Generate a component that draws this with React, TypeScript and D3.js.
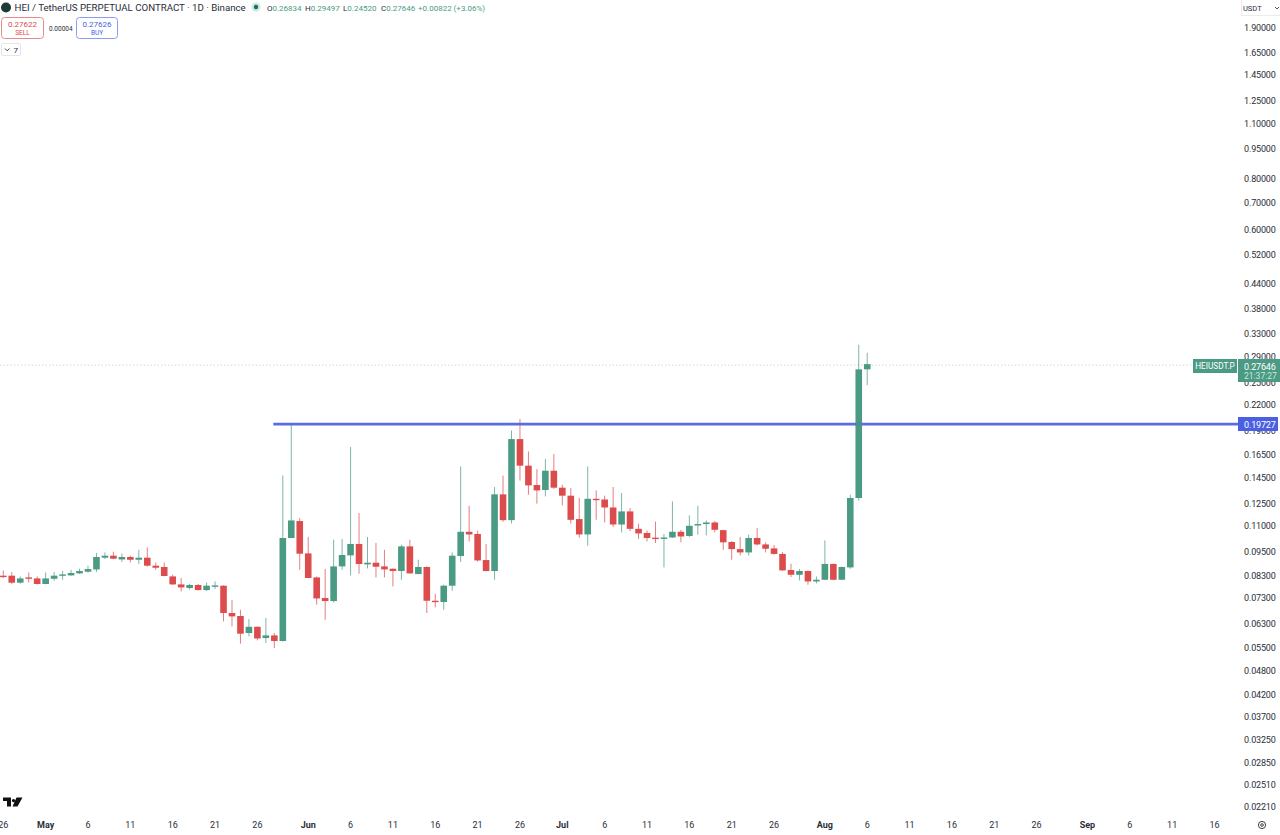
import React from "react";
import * as d3 from "d3";

const firstDay = "2025-04-26";
const opens = [
  0.08247,0.08247,0.07923,0.08166,0.08119,0.07864,0.08104,0.08261,0.08261,0.08356,
  0.08436,0.08546,0.0914,0.09246,0.09049,0.09177,0.09033,0.0914,0.08732,0.08667,
  0.08213,0.07846,0.07685,0.0782,0.07596,0.07775,0.07788,0.06663,0.06549,0.05943,
  0.06157,0.05774,0.05862,0.05676,0.1023,0.1127,0.09368,0.08166,0.07258,0.07134,
  0.08697,0.09262,0.09887,0.08797,0.08882,0.08697,0.08581,0.08469,0.09752,0.08327,
  0.08667,0.07146,0.07094,0.07788,0.0923,0.106,0.1047,0.09018,0.08469,0.1313,
  0.1133,0.1801,0.1547,0.1385,0.1346,0.1503,0.1364,0.1303,0.114,0.1044,
  0.128,0.1275,0.1218,0.1105,0.1191,0.1078,0.1053,0.1025,0.1019,0.1026,
  0.106,0.1035,0.1099,0.1108,0.1118,0.107,0.1,0.096,0.0942,0.1023,
  0.0986,0.0964,0.0934,0.0852,0.0829,0.0847,0.0798,0.08057,0.0882,0.08057,
  0.08646,0.1286,0.26834,
];
const closes = [
  0.08199,0.07923,0.08119,0.08104,0.07864,0.08119,0.08247,0.08308,0.08375,0.08469,
  0.08566,0.09177,0.09246,0.09086,0.09177,0.09033,0.0914,0.08732,0.08631,0.08233,
  0.07846,0.07712,0.0782,0.07596,0.07788,0.07802,0.06663,0.06534,0.05919,0.06157,
  0.0576,0.05862,0.05676,0.1023,0.1131,0.09352,0.08138,0.07241,0.07134,0.08697,
  0.09283,0.09887,0.08817,0.08882,0.0868,0.08546,0.08469,0.09752,0.08356,0.08667,
  0.07146,0.07094,0.07788,0.09246,0.106,0.1044,0.08998,0.08469,0.1313,0.1133,
  0.1801,0.1547,0.1382,0.1343,0.1503,0.1364,0.1303,0.1135,0.1044,0.128,
  0.1275,0.1218,0.1105,0.1191,0.1078,0.105,0.1023,0.102,0.1026,0.106,
  0.1032,0.1097,0.1108,0.1118,0.1072,0.0998,0.096,0.0942,0.1023,0.0986,
  0.0962,0.0934,0.085,0.0829,0.0847,0.0798,0.08057,0.0882,0.08057,0.08667,
  0.1286,0.26834,0.27646,
];
const highs = [
  0.08498,0.08422,0.08213,0.08403,0.08213,0.08403,0.08422,0.08469,0.08531,0.08581,
  0.08732,0.09389,0.09421,0.09459,0.09352,0.09246,0.09565,0.09695,0.08897,0.08897,
  0.08294,0.08138,0.07878,0.07864,0.07936,0.07981,0.078,0.07186,0.06787,0.06436,
  0.0617,0.06474,0.05943,0.1463,0.1955,0.1146,0.1029,0.08213,0.08566,0.1013,
  0.1017,0.1721,0.118,0.1029,0.09944,0.09565,0.08596,0.09848,0.1013,0.09033,
  0.08697,0.0744,0.07833,0.09421,0.154,0.123,0.1066,0.09887,0.1369,0.1461,
  0.1892,0.2019,0.1678,0.1517,0.1607,0.1654,0.1387,0.1361,0.1286,0.154,
  0.1343,0.1303,0.1369,0.1323,0.1214,0.111,0.1068,0.1124,0.1047,0.1261,
  0.1072,0.1164,0.123,0.1131,0.1127,0.1072,0.1005,0.1029,0.1042,0.1083,
  0.0998,0.0983,0.0944,0.0883,0.0857,0.085,0.0821,0.1009,0.0884,0.0869,
  0.131,0.3088,0.29497,
];
const lows = [
  0.08138,0.07878,0.07878,0.07936,0.07846,0.0785,0.08012,0.08057,0.08247,0.08327,
  0.08389,0.08422,0.0907,0.0907,0.08918,0.08897,0.08817,0.0868,0.08531,0.08213,
  0.0782,0.07537,0.07609,0.07579,0.07554,0.0764,0.0635,0.06171,0.0559,0.0583,
  0.05695,0.05612,0.05454,0.05663,0.1022,0.08531,0.0813,0.06987,0.0641,0.07078,
  0.08531,0.08261,0.08341,0.08596,0.08166,0.08166,0.07757,0.08057,0.0834,0.08308,
  0.06663,0.06879,0.06787,0.07567,0.08918,0.1002,0.08933,0.0846,0.08057,0.1122,
  0.1112,0.1421,0.131,0.1245,0.1298,0.1354,0.1233,0.111,0.1025,0.0979,
  0.1135,0.1118,0.1089,0.1056,0.1064,0.1017,0.1003,0.0994,0.08646,0.1023,
  0.0998,0.1029,0.1042,0.1038,0.1056,0.09565,0.09033,0.0926,0.0925,0.0979,
  0.0942,0.093,0.08484,0.08185,0.08026,0.0783,0.0789,0.0804,0.0804,0.0804,
  0.0858,0.1266,0.2452,
];
const priceTicks = [
  1.9,1.65,1.45,1.25,1.1,0.95,0.8,0.7,0.6,0.52,0.44,0.38,0.33,0.29,0.25,0.22,0.19,0.165,0.145,0.125,0.11,0.095,
  0.083,0.073,0.063,0.055,0.048,0.042,0.037,0.0325,0.0285,0.0251,0.0221,
];
const dateTicks = [
  "2025-04-26","2025-05-01","2025-05-06","2025-05-11","2025-05-16","2025-05-21","2025-05-26",
  "2025-06-01","2025-06-06","2025-06-11","2025-06-16","2025-06-21","2025-06-26",
  "2025-07-01","2025-07-06","2025-07-11","2025-07-16","2025-07-21","2025-07-26",
  "2025-08-01","2025-08-06","2025-08-11","2025-08-16","2025-08-21","2025-08-26",
  "2025-09-01","2025-09-06","2025-09-11","2025-09-16",
];
const levelPrice = 0.19727;
const levelStart = "2025-05-28";
const lastPrice = 0.27646;

const GREEN = "#4a9a84";
const RED = "#dc4c4c";
const BLUE = "#4a5fe3";
const TEXT = "#2a2e39";
const FONT = "Roboto, 'Liberation Sans', sans-serif";

const x = d3.scaleUtc().domain([new Date(firstDay), new Date("2025-09-16")]).range([3.3, 1214.5]);
const y = d3.scaleLog().domain([1.9, 0.0221]).range([27, 806]);
const dayX = (i: number) => x(d3.utcDay.offset(new Date(firstDay), i));
const bodyW = 6.6;

function Header() {
  const ohlc: [string, string][] = [["O", "0.26834"], ["H", "0.29497"], ["L", "0.24520"], ["C", "0.27646"]];
  let cx = 267;
  return (
    <g fontFamily={FONT}>
      <circle cx={6} cy={7.5} r={5} fill="#1e3a34" />
      <text x={14.5} y={11} fontSize={9.7} fill={TEXT}>HEI / TetherUS PERPETUAL CONTRACT · 1D · Binance</text>
      <circle cx={256} cy={7} r={4.5} fill="#cfe8e0" />
      <circle cx={256} cy={7} r={2.2} fill="#1f6f5c" />
      {ohlc.map(([k, v]) => {
        const at = cx;
        cx += 38;
        return (
          <text key={k} x={at} y={10.5} fontSize={8} fill={GREEN}>
            <tspan fill={TEXT}>{k}</tspan>{v}
          </text>
        );
      })}
      <text x={418} y={10.5} fontSize={8} fill={GREEN}>+0.00822 (+3.06%)</text>
      <rect x={1.5} y={17.5} width={42} height={21} rx={3} fill="#fff" stroke="#e58a8a" />
      <text x={22.5} y={26.5} textAnchor="middle" fontSize={8} fill={RED}>0.27622</text>
      <text x={22.5} y={35} textAnchor="middle" fontSize={6.5} fill={RED}>SELL</text>
      <text x={49} y={30.5} fontSize={6.5} fill={TEXT}>0.00004</text>
      <rect x={76.5} y={17.5} width={41} height={21} rx={3} fill="#fff" stroke="#8c9af0" />
      <text x={97} y={26.5} textAnchor="middle" fontSize={8} fill={BLUE}>0.27626</text>
      <text x={97} y={35} textAnchor="middle" fontSize={6.5} fill={BLUE}>BUY</text>
      <rect x={1.5} y={43.5} width={19} height={12} rx={1.5} fill="#fff" stroke="#e6e6e6" />
      <path d="M5 48.5 L7.2 50.8 L9.4 48.5" fill="none" stroke={TEXT} strokeWidth={0.9} />
      <text x={13.5} y={52.5} fontSize={8} fill={TEXT}>7</text>
    </g>
  );
}

function PriceAxis() {
  return (
    <g fontFamily={FONT} fontSize={9} fill={TEXT} letterSpacing={-0.15}>
      <path d="M1241.5 0 V15.5 H1280" fill="none" stroke="#ececec" />
      <text x={1243} y={10.5} fontSize={7.5} letterSpacing={0}>USDT</text>
      <path d="M1275 7 L1277 9 L1279 7" fill="none" stroke={TEXT} strokeWidth={0.8} />
      {priceTicks.map((p) => (
        <text key={p} x={1244} y={y(p) + 4}>{p.toFixed(5)}</text>
      ))}
    </g>
  );
}

function TimeAxis() {
  const fmt = d3.utcFormat("%b");
  return (
    <g fontFamily={FONT} fontSize={9} fill={TEXT} textAnchor="middle">
      {dateTicks.map((s) => {
        const d = new Date(s);
        const first = d.getUTCDate() === 1;
        return (
          <text key={s} x={x(d)} y={828} fontWeight={first ? 700 : 400}>
            {first ? fmt(d) : d.getUTCDate()}
          </text>
        );
      })}
      <circle cx={1262} cy={825} r={3.6} fill="none" stroke={TEXT} strokeWidth={0.9} />
      <circle cx={1262} cy={825} r={1.3} fill="none" stroke={TEXT} strokeWidth={0.9} />
    </g>
  );
}

function Candles() {
  return (
    <g>
      {opens.map((o, i) => {
        const c = closes[i];
        const color = c >= o ? GREEN : RED;
        const cxp = dayX(i);
        const top = y(Math.max(o, c));
        const bot = y(Math.min(o, c));
        return (
          <g key={i}>
            <line x1={cxp} x2={cxp} y1={y(highs[i])} y2={y(lows[i])} stroke={color} strokeWidth={1} strokeOpacity={0.72} />
            <rect x={cxp - bodyW / 2} y={top} width={bodyW} height={Math.max(bot - top, 1.4)} fill={color} />
          </g>
        );
      })}
    </g>
  );
}

export default function App() {
  const lastY = y(lastPrice) + 1;
  const lvlY = y(levelPrice) + 1;
  return (
    <svg
      width={1280}
      height={835}
      viewBox="0 0 1280 835"
      style={{ position: "absolute", left: 0, top: 0, background: "#fff", display: "block" }}
    >
      <rect width={1280} height={835} fill="#fff" />
      <line x1={0} x2={1193} y1={lastY} y2={lastY} stroke="#cfdcd8" strokeWidth={1} strokeDasharray="1.5 2" />
      <PriceAxis />
      <Candles />
      <line x1={x(new Date(levelStart)) - 1} x2={1238} y1={lvlY} y2={lvlY} stroke={BLUE} strokeWidth={2.7} strokeOpacity={0.92} />
      <line x1={dayX(101)} x2={dayX(101)} y1={lvlY - 1.5} y2={lvlY + 1.5} stroke={GREEN} strokeOpacity={0.8} strokeWidth={6.6} />
      <Header />
      <g fontFamily={FONT}>
        <rect x={1193} y={359} width={44} height={14} fill={GREEN} />
        <text x={1215} y={369.3} textAnchor="middle" fontSize={8.2} fill="#fff">HEIUSDT.P</text>
        <rect x={1238} y={359} width={42} height={23} fill={GREEN} />
        <text x={1244} y={369.5} fontSize={9} letterSpacing={-0.15} fill="#fff">{lastPrice.toFixed(5)}</text>
        <text x={1244} y={379} fontSize={8.5} fill="#cfe6df">21:37:27</text>
        <rect x={1238} y={417} width={40} height={14} fill={BLUE} />
        <text x={1244} y={427.5} fontSize={9} letterSpacing={-0.15} fill="#fff">{levelPrice.toFixed(5)}</text>
      </g>
      <TimeAxis />
      <path d="M3 797.5 H11 V806.5 H7 V801 H3 Z M13.5 799 a1.6 1.6 0 1 0 0.01 0 Z M16.5 797.5 H22.5 L17.5 806.5 H12.5 Z" fill="#111" />
    </svg>
  );
}
